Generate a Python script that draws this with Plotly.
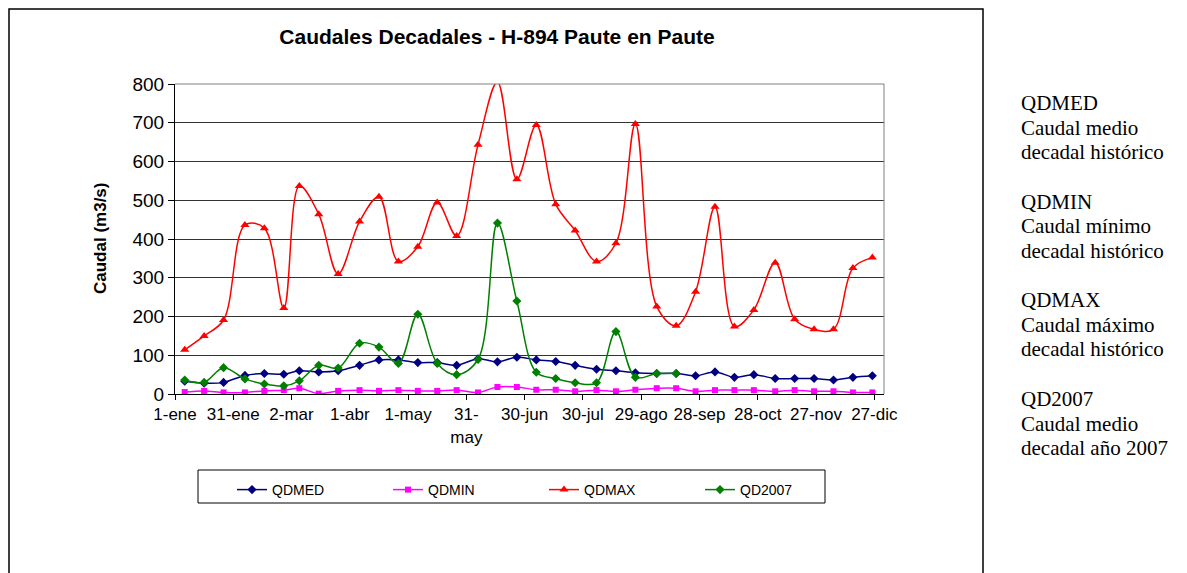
import pandas as pd
import plotly.graph_objects as go

# ---- data ----
months = list(range(1, 13))
decade_days = [6, 16, 26]
dates = [pd.Timestamp(2007, m, d) for m in months for d in decade_days]

qdmed = [33, 28, 30, 48, 53, 51, 60, 57, 60, 74, 88, 88,
         81, 81, 74, 91, 83, 95, 88, 84, 74, 64, 60, 55,
         53, 53, 47, 57, 43, 50, 40, 40, 40, 36, 43, 47]
qdmin = [5, 8, 4, 4, 8, 10, 15, 1, 8, 10, 8, 10,
         8, 8, 10, 4, 18, 18, 11, 11, 7, 10, 7, 11,
         15, 15, 7, 10, 10, 10, 7, 10, 7, 7, 4, 4]
qdmax = [114, 150, 191, 436, 428, 222, 537, 464, 310, 445, 509, 342,
         380, 494, 408, 643, 805, 554, 694, 490, 422, 342, 389, 697,
         226, 176, 264, 483, 174, 217, 339, 193, 167, 167, 325, 352]
qd2007 = [36, 30, 68, 39, 26, 21, 34, 74, 67, 131, 121, 79,
          206, 79, 50, 89, 441, 240, 56, 40, 29, 29, 161, 43,
          53, 53]

tick_labels = ["1-ene", "31-ene", "2-mar", "1-abr", "1-may", "31-<br>may",
               "30-jun", "30-jul", "29-ago", "28-sep", "28-oct", "27-nov", "27-dic"]
tick_dates = list(pd.date_range("2007-01-01", periods=len(tick_labels), freq="30D"))

series_names = ["QDMED", "QDMIN", "QDMAX", "QD2007"]
series_values = [qdmed, qdmin, qdmax, qd2007]
series_colors = ["#000080", "#FF00FF", "#FF0000", "#008000"]
series_symbols = ["diamond", "square", "triangle-up", "diamond"]
series_sizes = [7, 6, 8, 7]

notes = [
    ["QDMED", "Caudal medio", "decadal histórico"],
    ["QDMIN", "Caudal mínimo", "decadal histórico"],
    ["QDMAX", "Caudal máximo", "decadal histórico"],
    ["QD2007", "Caudal medio", "decadal año 2007"],
]

title_text = "Caudales Decadales - H-894 Paute en Paute"
y_title = "Caudal (m3/s)"

# ---- layout geometry (page pixels; the page body adds an 8px offset) ----
OFF = 8
W, H = 1187 - OFF, 573 - OFF
L, R, T, B = 175, 884, 84, 394          # plot area in page pixels
pw, ph = R - L, B - T


def px(x):
    return (x - L) / pw


def py(y):
    return (B - y) / ph


fig = go.Figure()
for name, vals, col, sym, sz in zip(series_names, series_values, series_colors,
                                    series_symbols, series_sizes):
    fig.add_trace(go.Scatter(
        x=dates[:len(vals)], y=vals, name=name, mode="lines+markers",
        line=dict(color=col, width=1.5, shape="spline", smoothing=1),
        marker=dict(color=col, symbol=sym, size=sz),
    ))

font_sans = "Liberation Sans, Arial, sans-serif"
font_serif = "Liberation Serif, Times New Roman, serif"

fig.update_layout(
    width=W, height=H,
    margin=dict(l=L - OFF, r=W - (R - OFF), t=T - OFF, b=H - (B - OFF), autoexpand=False),
    paper_bgcolor="white", plot_bgcolor="white",
    font=dict(family=font_sans, color="black"),
    title=dict(text="<b>" + title_text + "</b>", x=px(497), xref="paper", xanchor="center",
               y=1 - (37 - OFF) / H, yref="container", yanchor="middle",
               font=dict(size=21, family=font_sans, color="black")),
    showlegend=True,
    legend=dict(orientation="h", x=px(232), xanchor="left", y=py(474), yanchor="top",
                font=dict(size=14, family=font_sans), entrywidth=111,
                bgcolor="rgba(0,0,0,0)", borderwidth=0, itemwidth=30),
)

fig.update_xaxes(
    type="date", range=["2007-01-01", "2008-01-01"],
    tickmode="array", tickvals=tick_dates, ticktext=tick_labels,
    ticks="outside", ticklen=5, tickcolor="black", tickwidth=1,
    showline=True, linecolor="black", linewidth=1,
    showgrid=False, zeroline=False,
    tickfont=dict(size=17, family=font_sans), tickangle=0,
)
fig.update_yaxes(
    range=[0, 800], tickvals=[0, 100, 200, 300, 400, 500, 600, 700, 800],
    ticks="outside", ticklen=6, tickcolor="black", tickwidth=1,
    showline=True, linecolor="black", linewidth=1,
    showgrid=True, gridcolor="#333333", gridwidth=1, zeroline=False,
    tickfont=dict(size=19, family=font_sans),
)

shapes = [
    # chart area border (left/top edges as close to the page corner as the figure allows)
    dict(type="rect", xref="paper", yref="paper", x0=px(9), x1=px(983), y0=py(600), y1=py(9),
         line=dict(color="black", width=1.5), fillcolor="rgba(0,0,0,0)", layer="below"),
    # plot area border (top and right)
    dict(type="line", xref="paper", yref="paper", x0=1, x1=1, y0=0, y1=1,
         line=dict(color="#808080", width=1)),
    dict(type="line", xref="paper", yref="paper", x0=0, x1=1, y0=1, y1=1,
         line=dict(color="#808080", width=1)),
    # legend box
    dict(type="rect", xref="paper", yref="paper", x0=px(198), x1=px(825), y0=py(503), y1=py(470),
         line=dict(color="black", width=1), fillcolor="rgba(0,0,0,0)"),
]
fig.update_layout(shapes=shapes)

annotations = [
    dict(text="<b>" + y_title + "</b>", x=px(100), y=0.5, xref="paper", yref="paper",
         textangle=-90, showarrow=False, xanchor="center", yanchor="middle",
         font=dict(size=17, family=font_sans, color="black")),
]
for b, block in enumerate(notes):
    for k, line in enumerate(block):
        yy = 103 + 98.7 * b + 24.5 * k
        annotations.append(dict(
            text=line, x=px(1019), y=py(yy), xref="paper", yref="paper",
            showarrow=False, xanchor="left", yanchor="middle",
            font=dict(size=21, family=font_serif, color="black")))
fig.update_layout(annotations=annotations)

fig.write_html("out.html")
